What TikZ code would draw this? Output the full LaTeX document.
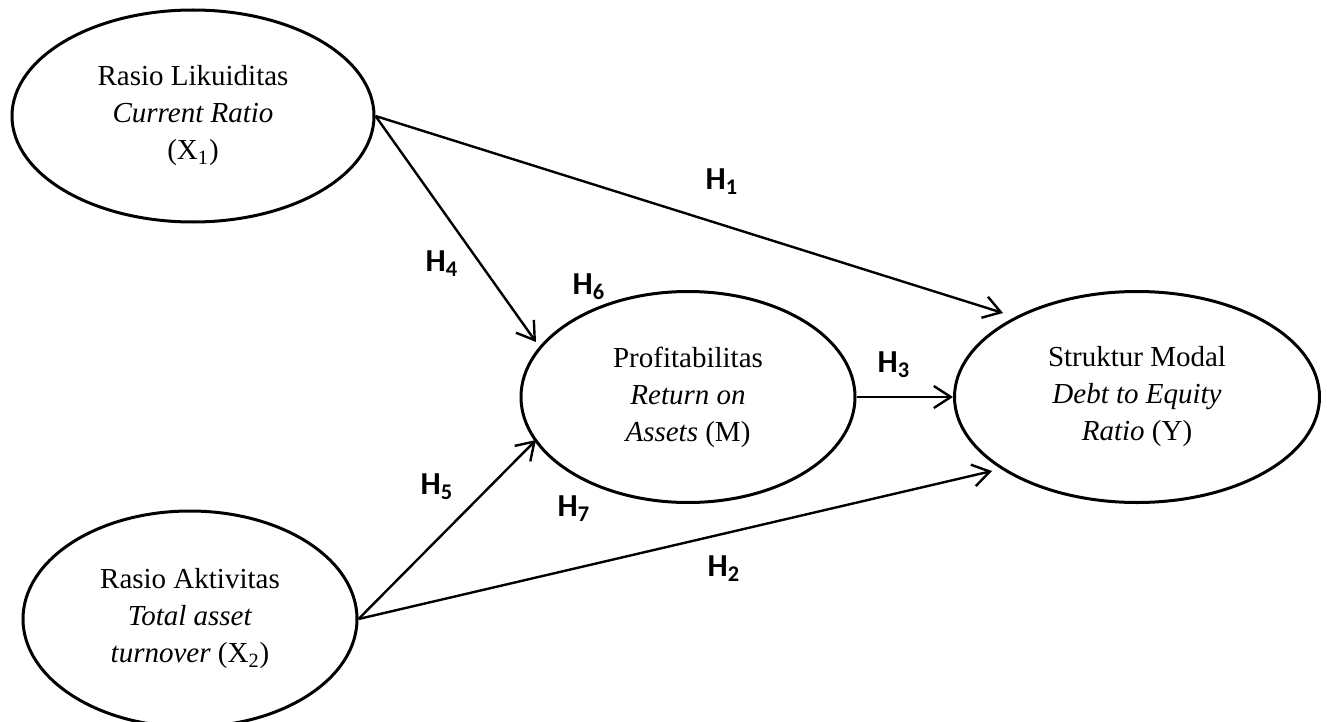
\documentclass[tikz,border=0pt]{standalone}
\usepackage{fontspec}
\setmainfont{Liberation Serif}
\newfontfamily\hypfont{Carlito}
\usetikzlibrary{shapes.geometric,arrows.meta}

\begin{document}
\begin{tikzpicture}[x=0.5pt, y=-0.5pt,
    var/.style={ellipse, draw, line width=1.5pt, inner sep=0pt, align=center,
        font=\fontsize{14.5}{18.5}\selectfont},
    arr/.style={-{Straight Barb[length=8.5pt, width=11pt]}, line width=1.2pt},
    hyp/.style={font=\hypfont\bfseries\fontsize{16}{18}\selectfont}]
    \useasboundingbox (0,0) rectangle (1327,722);
    % variables
    \node[var, minimum width=181pt, minimum height=106pt] (x1) at (193,116)
        {Rasio Likuiditas\\ \textit{Current Ratio}\\ (X\textsubscript{1})};
    \node[var, minimum width=167pt, minimum height=108pt] (x2) at (190,619)
        {Rasio Aktivitas\\ \textit{Total asset}\\ \textit{turnover} (X\textsubscript{2})};
    \node[var, minimum width=167pt, minimum height=105.5pt] (m) at (688,397)
        {Profitabilitas\\ \textit{Return on}\\ \textit{Assets} (M)};
    \node[var, minimum width=182.5pt, minimum height=105.5pt] (y) at (1137,397)
        {Struktur Modal\\ \textit{Debt to Equity}\\ \textit{Ratio} (Y)};
    % arrow tips
    \coordinate (t1) at (1003,313);
    \coordinate (t4) at (536,342);
    \coordinate (t5) at (536,440);
    \coordinate (t2) at (992,471);
    \draw[arr] (x1.east) -- (t1);
    \draw[arr] (x1.east) -- (t4);
    \draw[arr] (x2.east) -- (t5);
    \draw[arr] (x2.east) -- (t2);
    \draw[arr] (m.east) -- (y.west);
    % hypotheses
    \node[hyp] (h1) at (722,182) {H\textsubscript{1}};
    \node[hyp] (h2) at (724,569) {H\textsubscript{2}};
    \node[hyp] (h3) at (894,365) {H\textsubscript{3}};
    \node[hyp] (h4) at (442,264) {H\textsubscript{4}};
    \node[hyp] (h5) at (437,487) {H\textsubscript{5}};
    \node[hyp] (h6) at (589,287) {H\textsubscript{6}};
    \node[hyp] (h7) at (574,509) {H\textsubscript{7}};
\end{tikzpicture}
\end{document}
